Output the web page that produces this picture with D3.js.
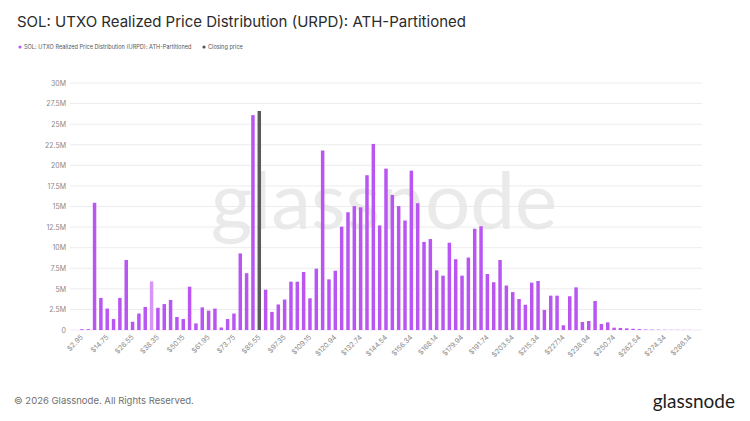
<!DOCTYPE html>
<html>
<head>
<meta charset="utf-8">
<script src="https://cdn.jsdelivr.net/npm/d3@7"></script>
<style>
  body { margin: 0; background: #fff; font-family: Inter, "Noto Sans", sans-serif; }
  svg { display: block; }
</style>
</head>
<body>
<div id="chart"></div>
<script>
// URPD supply per price bin (bin width ~ $2.95, first bin $2.95)
const binStart = 2.95, binWidth = 2.9499;
const supply = [
  0.1, 0.1, 15.45, 3.9, 2.6, 1.33, 3.9, 8.5, 1.0, 2.0,
  2.8, 5.9, 2.7, 3.15, 3.65, 1.58, 1.33, 5.26, 0.8, 2.75,
  2.35, 2.6, 0.3, 1.33, 2.0, 9.3, 6.9, 26.1, 26.6, 4.9,
  2.2, 3.1, 3.7, 5.87, 5.87, 7.04, 3.85, 7.45, 21.8, 6.15,
  7.2, 12.55, 14.3, 15.05, 14.9, 18.8, 22.6, 12.7, 19.6, 16.4,
  15.05, 13.3, 19.35, 15.4, 10.7, 11.05, 7.25, 6.6, 10.6, 8.6,
  6.6, 8.8, 12.3, 12.6, 6.8, 5.8, 8.5, 5.4, 4.6, 3.76,
  3.07, 5.75, 5.95, 2.43, 4.17, 4.17, 0.57, 4.1, 5.18, 0.97,
  1.09, 3.52, 0.73, 0.93, 0.28, 0.25, 0.2, 0.15, 0.1, 0.06,
  0.05, 0.04, 0.03, 0.02, 0.02, 0.01, 0.01
];
const closingIndex = 28;     // bin holding the closing price
const highlightIndex = 11;   // lighter bar
const tickLabels = ["$2.95", "$14.75", "$26.55", "$38.35", "$50.15", "$61.95", "$73.75",
  "$85.55", "$97.35", "$109.15", "$120.94", "$132.74", "$144.54", "$156.34", "$168.14",
  "$179.94", "$191.74", "$203.54", "$215.34", "$227.14", "$238.94", "$250.74", "$262.54",
  "$274.34", "$286.14"];
const yTicks = [0, 2.5, 5, 7.5, 10, 12.5, 15, 17.5, 20, 22.5, 25, 27.5, 30];

const width = 750, height = 421,
      margin = { top: 83, right: 48, bottom: 91, left: 70 };

const data = supply.map((v, i) => ({ i, price: binStart + i * binWidth, value: v }));

const svg = d3.select("#chart").append("svg")
  .attr("width", width)
  .attr("height", height)
  .attr("viewBox", [0, 0, width, height]);

const x = d3.scaleBand()
  .domain(data.map(d => d.i))
  .range([margin.left, width - margin.right])
  .paddingInner(0.45)
  .paddingOuter(1.6);

const y = d3.scaleLinear()
  .domain([0, 30])
  .range([height - margin.bottom, margin.top]);

// Title
svg.append("text")
  .attr("x", 17).attr("y", 27)
  .style("font-size", "15px")
  .style("fill", "#2b2b2b")
  .text("SOL: UTXO Realized Price Distribution (URPD): ATH-Partitioned");

// Legend
const legend = svg.append("g").attr("transform", "translate(20,47)");
[{ label: "SOL: UTXO Realized Price Distribution (URPD): ATH-Partitioned", color: "#b95cf4", x: 0 },
 { label: "Closing price", color: "#555", x: 184 }].forEach(l => {
  legend.append("circle").attr("cx", l.x).attr("cy", 0).attr("r", 1.6).attr("fill", l.color);
  legend.append("text")
    .attr("x", l.x + 4).attr("y", 2)
    .style("font-size", "5.6px")
    .style("fill", "#555")
    .text(l.label);
});

// Grid lines
svg.append("g")
  .selectAll("line")
  .data(yTicks.slice(1))
  .join("line")
  .attr("x1", margin.left)
  .attr("x2", width - margin.right)
  .attr("y1", d => y(d))
  .attr("y2", d => y(d))
  .attr("stroke", "#ececec")
  .attr("stroke-width", 1);

// Watermark
svg.append("text")
  .attr("x", (margin.left + width - margin.right) / 2 - 2)
  .attr("y", 229)
  .attr("text-anchor", "middle")
  .style("font-size", "80px")
  .style("font-family", "Lato, Inter, sans-serif")
  .style("fill", "#e6e6e6")
  .style("opacity", 0.8)
  .text("glassnode");

// Y-axis
const yAxis = svg.append("g")
  .attr("transform", `translate(${margin.left},0)`)
  .call(d3.axisLeft(y)
    .tickValues(yTicks)
    .tickSize(0)
    .tickPadding(4)
    .tickFormat(d => d === 0 ? "0" : d + "M"));
yAxis.select(".domain").remove();
yAxis.selectAll("text")
  .style("font-size", "7px")
  .style("font-family", "Inter, sans-serif")
  .style("fill", "#888");

// Baseline
svg.append("line")
  .attr("x1", margin.left).attr("x2", width - margin.right)
  .attr("y1", y(0)).attr("y2", y(0))
  .attr("stroke", "#f3e6fb");

// Bars
svg.append("g")
  .selectAll("rect")
  .data(data)
  .join("rect")
  .attr("x", d => x(d.i))
  .attr("y", d => y(d.value))
  .attr("width", x.bandwidth())
  .attr("height", d => y(0) - y(d.value))
  .attr("fill", d => d.i === closingIndex ? "#5a5a5a"
    : d.i === highlightIndex ? "#d596f7" : "#b956f2");

// X-axis
const tickIdx = tickLabels.map((t, k) => k * 4);
const xAxis = svg.append("g")
  .attr("transform", `translate(0,${height - margin.bottom})`)
  .call(d3.axisBottom(x)
    .tickValues(tickIdx)
    .tickSize(0)
    .tickPadding(6)
    .tickFormat((d, k) => tickLabels[k]));
xAxis.select(".domain").remove();
xAxis.selectAll("text")
  .attr("text-anchor", "end")
  .attr("transform", "translate(-4,2) rotate(-45)")
  .attr("dy", "0.3em")
  .style("font-size", "7px")
  .style("font-family", "Inter, sans-serif")
  .style("fill", "#888");

// Footer
svg.append("text")
  .attr("x", 14).attr("y", 404)
  .style("font-size", "9.5px")
  .style("fill", "#707070")
  .text("© 2026 Glassnode. All Rights Reserved.");

svg.append("text")
  .attr("x", 735).attr("y", 408)
  .attr("text-anchor", "end")
  .style("font-size", "19px")
  .style("font-family", "Lato, Inter, sans-serif")
  .style("fill", "#1e1e1e")
  .text("glassnode");
</script>
</body>
</html>
